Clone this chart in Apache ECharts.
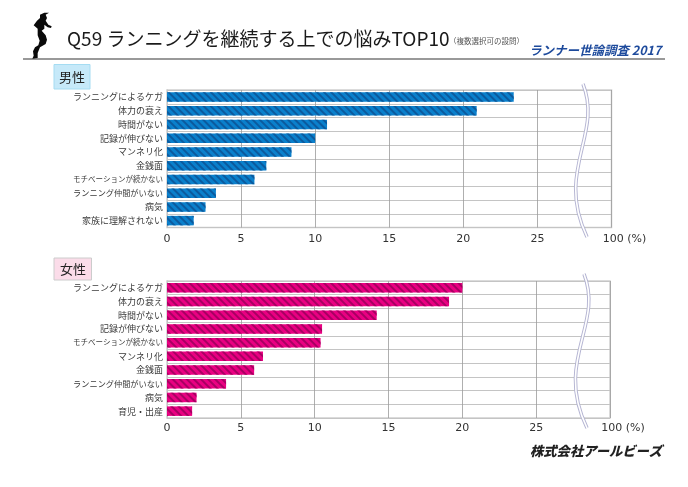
<!DOCTYPE html>
<html><head><meta charset="utf-8">
<style>html,body{margin:0;padding:0;background:#fff}#c{width:688px;height:487px}</style>
<script src="https://cdn.jsdelivr.net/npm/echarts@6/dist/echarts.min.js"></script>
</head><body><div id="c"></div>
<script>
const maleCategories = ['ランニングによるケガ','体力の衰え','時間がない','記録が伸びない','マンネリ化','金銭面','モチベーションが続かない','ランニング仲間がいない','病気','家族に理解されない'];
const maleValues = [23.4,20.9,10.8,10.0,8.4,6.7,5.9,3.3,2.6,1.8];
const femaleCategories = ['ランニングによるケガ','体力の衰え','時間がない','記録が伸びない','モチベーションが続かない','マンネリ化','金銭面','ランニング仲間がいない','病気','育児・出産'];
const femaleValues = [20.0,19.1,14.2,10.5,10.4,6.5,5.9,4.0,2.0,1.7];
const titleText = 'Q59 ランニングを継続する上での悩みTOP10';
const noteText = '（複数選択可の設問）';
const surveyText = 'ランナー世論調査 2017';
const companyText = '株式会社アールビーズ';
const axisMax = 30, axisStep = 5, topLabel = '100 (%)';

const JP = '"Noto Sans CJK JP"';
const chart = echarts.init(document.getElementById('c'), null, {renderer:'canvas'});

function xAxis(i,m){return {gridIndex:i,type:'value',min:0,max:axisMax,interval:axisStep,
  axisLine:{show:false},axisTick:{show:false},
  splitLine:{show:true,lineStyle:{color:'#9a9a9a',width:0.8}},
  axisLabel:{margin:m,color:'#333',fontFamily:'"DejaVu Sans"',fontSize:11,
    formatter:v=>v===axisMax?'{a|'+topLabel+'}':String(v),
    rich:{a:{padding:[0,0,0,26],color:'#333',fontFamily:'"DejaVu Sans"',fontSize:11}}}};}
function yAxis(i,cats){return {gridIndex:i,type:'category',inverse:true,
  data:cats.map(c=>({value:c,textStyle:{fontSize:Math.min(9,90/c.length)}})),
  axisLine:{show:true,lineStyle:{color:'#c4c4c4',width:1}},axisTick:{show:false},
  splitLine:{show:true,lineStyle:{color:'#c4c4c4',width:1}},
  axisLabel:{margin:4,color:'#3a3a3a',fontFamily:JP,fontSize:9,interval:0}};}
function bars(i,vals,col,dark){return {type:'bar',xAxisIndex:i,yAxisIndex:i,data:vals,barWidth:9.5,
  itemStyle:{color:col,decal:{symbol:'rect',color:dark,dashArrayX:[1,0],dashArrayY:[1.5,2.5],rotation:Math.PI/4}}};}
const mkBreak=pts=>{const g=[];
  [['#b4b4d2',3.5],['#fff',1.6]].forEach(([c,w])=>g.push({type:'bezierCurve',silent:true,z:20,
    shape:{x1:pts[0][0],y1:pts[0][1],x2:pts[3][0],y2:pts[3][1],cpx1:pts[1][0],cpy1:pts[1][1],cpx2:pts[2][0],cpy2:pts[2][1]},
    style:{stroke:c,lineWidth:w,fill:null}}));return g;};
const breakA=[[583,84],[603,135],[555,170],[587,237]];
const breakB=[[584,274],[604,325],[554,360],[587,428]];
const runner=[[45,20],[58,14],[72,14],[62,20],[66,30],[62,38],[70,50],[80,55],[78,60],[68,58],[58,50],[58,62],[50,68],[62,82],[66,95],[62,108],[45,118],[38,135],[38,150],[22,152],[26,143],[24,130],[30,118],[40,112],[44,98],[38,82],[38,62],[26,52],[36,38],[45,30]];

chart.setOption({
  animation:false,backgroundColor:'#fff',
  title:[
    {text:titleText,left:67,top:29,padding:0,textStyle:{fontFamily:JP,fontSize:19,fontWeight:400,color:'#1a1a1a'}},
    {text:noteText,left:449,top:37,padding:0,textStyle:{fontFamily:JP,fontSize:7.5,fontWeight:400,color:'#555'}},
    {text:surveyText,left:529,top:44,padding:0,textStyle:{fontFamily:JP,fontSize:12.5,fontWeight:700,fontStyle:'italic',color:'#1d4a9c'}},
    {text:companyText,left:530,top:444,padding:0,textStyle:{fontFamily:JP,fontSize:13.3,fontWeight:900,fontStyle:'italic',color:'#222'}}
  ],
  grid:[
    {left:167,top:90,width:444.5,height:137.5,show:true,borderColor:'#d0d0d0',borderWidth:1.5,backgroundColor:'transparent'},
    {left:167,top:281,width:443,height:137,show:true,borderColor:'#d0d0d0',borderWidth:1.5,backgroundColor:'transparent'}
  ],
  xAxis:[xAxis(0,6),xAxis(1,5)],
  yAxis:[yAxis(0,maleCategories),yAxis(1,femaleCategories)],
  series:[bars(0,maleValues,'#0a80cc','#0b5a9e'),bars(1,femaleValues,'#ea0082','#a80062')],
  graphic:[
    {type:'line',shape:{x1:23,y1:59,x2:665,y2:59},style:{stroke:'#777',lineWidth:1.5}},
    {type:'polygon',x:25,y:8,scaleX:1/3,scaleY:1/3,shape:{points:runner},style:{fill:'#0a0a0a'}},
    {type:'rect',shape:{x:54,y:64.5,width:36,height:24.5},style:{fill:'#c6e9f9',stroke:'#a5dcf2',lineWidth:1}},
    {type:'text',x:72,y:77,style:{text:'男性',font:'400 13px '+JP,fill:'#222',align:'center',verticalAlign:'middle'}},
    {type:'rect',shape:{x:54,y:258,width:37.5,height:22},style:{fill:'#fbdce9',stroke:'#ccc',lineWidth:1}},
    {type:'text',x:73,y:269,style:{text:'女性',font:'400 13px '+JP,fill:'#222',align:'center',verticalAlign:'middle'}},
    ...mkBreak(breakA),...mkBreak(breakB)
  ]
});
</script></body></html>
